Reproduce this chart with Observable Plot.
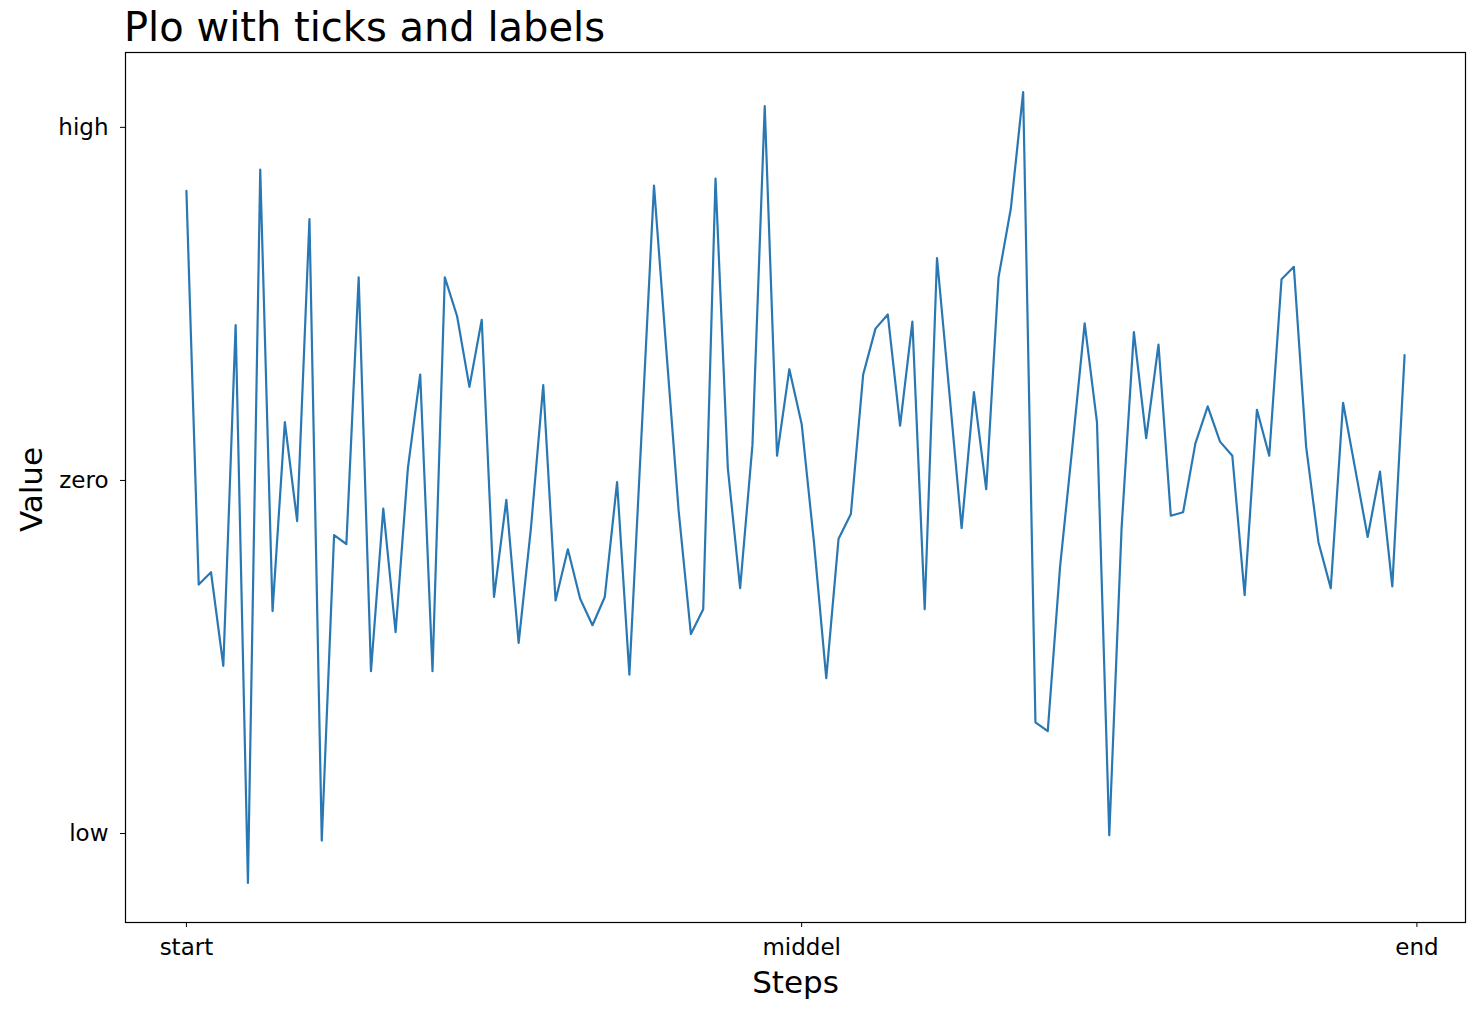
<!DOCTYPE html>
<html>
<head>
<meta charset="utf-8">
<script src="https://cdn.jsdelivr.net/npm/d3@7"></script>
<script src="https://cdn.jsdelivr.net/npm/@observablehq/plot@0.6"></script>
<style>
  html, body { margin: 0; padding: 0; background: #fff; }
  #title { height: 50px; line-height: 54px; padding-left: 124px; font-family: "DejaVu Sans", sans-serif; font-size: 40px; color: #000; white-space: nowrap; }
  #chart svg { display: block; }
</style>
</head>
<body>
<div id="title">Plo with ticks and labels</div>
<div id="chart"></div>
<script>
const chartTitle = "Plo with ticks and labels";
const xLabel = "Steps";
const yLabel = "Value";
const xTickValues = [0, 50, 100];
const xTickLabels = ["start", "middel", "end"];
const yTickValues = [-2, 0, 2];
const yTickLabels = ["low", "zero", "high"];
const values = [
  1.64, -0.59, -0.52, -1.05, 0.88, -2.28, 1.76, -0.74, 0.33, -0.23,
  1.48, -2.04, -0.31, -0.36, 1.15, -1.08, -0.16, -0.86, 0.07, 0.60,
  -1.08, 1.15, 0.93, 0.53, 0.91, -0.66, -0.11, -0.92, -0.27, 0.54,
  -0.68, -0.39, -0.67, -0.82, -0.66, -0.01, -1.10, 0.28, 1.67, 0.74,
  -0.17, -0.87, -0.73, 1.71, 0.07, -0.61, 0.20, 2.12, 0.14, 0.63,
  0.32, -0.35, -1.12, -0.33, -0.19, 0.60, 0.86, 0.94, 0.31, 0.90,
  -0.73, 1.26, 0.50, -0.27, 0.50, -0.05, 1.15, 1.54, 2.20, -1.37,
  -1.42, -0.49, 0.19, 0.89, 0.33, -2.01, -0.27, 0.84, 0.24, 0.77,
  -0.20, -0.18, 0.21, 0.42, 0.22, 0.14, -0.65, 0.40, 0.14, 1.14,
  1.21, 0.19, -0.35, -0.61, 0.44, 0.06, -0.32, 0.05, -0.60, 0.71
];

const n = values.length;
const xPad = (n - 1) * 0.05;
const [yMin, yMax] = d3.extent(values);
const yPad = (yMax - yMin) * 0.05;
const font = "DejaVu Sans, sans-serif";

const chart = Plot.plot({
  width: 1482,
  height: 966,
  marginTop: 2,
  marginBottom: 94,
  marginLeft: 125,
  marginRight: 17,
  style: { fontFamily: font, background: "#fff", color: "#000" },
  x: { domain: [-xPad, n - 1 + xPad] },
  y: { domain: [yMin - yPad, yMax + yPad] },
  marks: [
    Plot.lineY(values, { stroke: "#2a78b3", strokeWidth: 2.2 }),
    Plot.frame({ stroke: "#000", strokeWidth: 1.2 }),
    Plot.axisX({
      ticks: xTickValues,
      tickFormat: (d) => xTickLabels[xTickValues.indexOf(d)],
      tickSize: 5,
      tickPadding: 11,
      fontSize: 23,
      label: null,
      stroke: "#000"
    }),
    Plot.axisY({
      ticks: yTickValues,
      tickFormat: (d) => yTickLabels[yTickValues.indexOf(d)],
      tickSize: 5,
      tickPadding: 12,
      fontSize: 23,
      label: null,
      stroke: "#000"
    }),
    Plot.text([xLabel], {
      text: (d) => d,
      frameAnchor: "bottom",
      textAnchor: "middle",
      lineAnchor: "middle",
      dy: 61,
      fontSize: 31,
      fill: "#000"
    }),
    Plot.text([yLabel], {
      text: (d) => d,
      frameAnchor: "left",
      textAnchor: "middle",
      lineAnchor: "middle",
      rotate: -90,
      dx: -93,
      dy: 2,
      fontSize: 31,
      fill: "#000"
    })
  ]
});
document.getElementById("chart").appendChild(chart);
</script>
</body>
</html>
